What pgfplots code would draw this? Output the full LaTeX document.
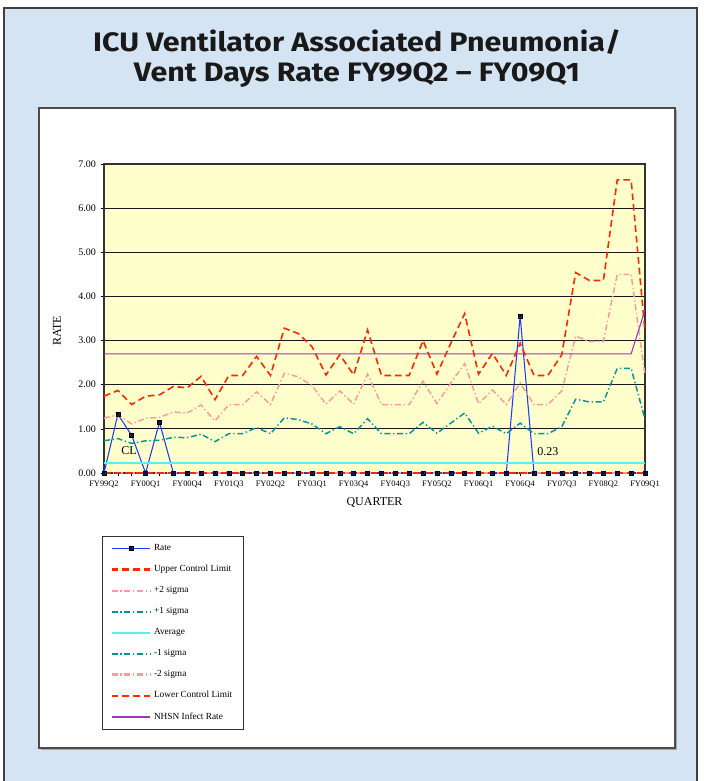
\documentclass[border=0pt]{standalone}
\usepackage{fontspec}
\setmainfont{Liberation Serif}
\newfontfamily\titlefont{Fira Sans}[FakeStretch=1.14]
\usepackage{pgfplots}
\usepackage{pgfplotstable}
\pgfplotsset{compat=1.18}

\definecolor{panelblue}{RGB}{212,228,243}
\definecolor{plotyellow}{RGB}{255,255,204}
\definecolor{ratecol}{RGB}{30,60,255}
\definecolor{markcol}{RGB}{20,45,180}
\definecolor{uclred}{RGB}{255,40,0}
\definecolor{sigpink}{RGB}{255,153,153}
\definecolor{sigteal}{RGB}{0,150,150}
\definecolor{avgcyan}{RGB}{90,240,240}
\definecolor{nhsnpurple}{RGB}{160,50,190}

% square with a cross, like the Excel marker
\pgfdeclareplotmark{sqx}{%
  \pgfpathrectangle{\pgfqpoint{-\pgfplotmarksize}{-\pgfplotmarksize}}{\pgfqpoint{2\pgfplotmarksize}{2\pgfplotmarksize}}%
  \pgfusepathqfillstroke
  \pgfpathmoveto{\pgfqpoint{-\pgfplotmarksize}{-\pgfplotmarksize}}%
  \pgfpathlineto{\pgfqpoint{\pgfplotmarksize}{\pgfplotmarksize}}%
  \pgfpathmoveto{\pgfqpoint{-\pgfplotmarksize}{\pgfplotmarksize}}%
  \pgfpathlineto{\pgfqpoint{\pgfplotmarksize}{-\pgfplotmarksize}}%
  \pgfusepathqstroke
}

\pgfplotstableread{
q rate ucl ptwo pone avg mone mtwo lcl nhsn
0  0    1.74 1.24 0.73 0.23 0 0 0 2.70
1  1.33 1.87 1.32 0.78 0.23 0 0 0 2.70
2  0.85 1.55 1.11 0.67 0.23 0 0 0 2.70
3  0    1.74 1.24 0.73 0.23 0 0 0 2.70
4  1.15 1.77 1.26 0.74 0.23 0 0 0 2.70
5  0    1.96 1.38 0.81 0.23 0 0 0 2.70
6  0    1.93 1.36 0.80 0.23 0 0 0 2.70
7  0    2.19 1.54 0.88 0.23 0 0 0 2.70
8  0    1.66 1.18 0.71 0.23 0 0 0 2.70
9  0    2.21 1.55 0.89 0.23 0 0 0 2.70
10 0    2.21 1.55 0.89 0.23 0 0 0 2.70
11 0    2.64 1.84 1.03 0.23 0 0 0 2.70
12 0    2.21 1.55 0.89 0.23 0 0 0 2.70
13 0    3.28 2.26 1.25 0.23 0 0 0 2.70
14 0    3.16 2.18 1.21 0.23 0 0 0 2.70
15 0    2.86 1.98 1.11 0.23 0 0 0 2.70
16 0    2.22 1.56 0.89 0.23 0 0 0 2.70
17 0    2.68 1.86 1.05 0.23 0 0 0 2.70
18 0    2.22 1.56 0.89 0.23 0 0 0 2.70
19 0    3.24 2.24 1.23 0.23 0 0 0 2.70
20 0    2.21 1.55 0.89 0.23 0 0 0 2.70
21 0    2.21 1.55 0.89 0.23 0 0 0 2.70
22 0    2.21 1.55 0.89 0.23 0 0 0 2.70
23 0    3.00 2.08 1.15 0.23 0 0 0 2.70
24 0    2.24 1.57 0.90 0.23 0 0 0 2.70
25 0    2.94 2.04 1.13 0.23 0 0 0 2.70
26 0    3.61 2.48 1.36 0.23 0 0 0 2.70
27 0    2.24 1.57 0.90 0.23 0 0 0 2.70
28 0    2.71 1.88 1.06 0.23 0 0 0 2.70
29 0    2.21 1.55 0.89 0.23 0 0 0 2.70
30 3.56 2.94 2.04 1.13 0.23 0 0 0 2.70
31 0    2.21 1.55 0.89 0.23 0 0 0 2.70
32 0    2.21 1.55 0.89 0.23 0 0 0 2.70
33 0    2.68 1.86 1.05 0.23 0 0 0 2.70
34 0    4.54 3.10 1.67 0.23 0 0 0 2.70
35 0    4.36 2.98 1.61 0.23 0 0 0 2.70
36 0    4.36 2.98 1.61 0.23 0 0 0 2.70
37 0    6.64 4.50 2.37 0.23 0 0 0 2.70
38 0    6.64 4.50 2.37 0.23 0 0 0 2.70
39 0    3.20 2.21 1.22 0.23 0 0 0 3.69
}\vapdata

\begin{document}
\begin{tikzpicture}
% panel and frame, in pixel units of the reference
\begin{scope}[x=0.75pt,y=-0.75pt]
  \fill[white] (0,0) rectangle (703,781);
  \fill[panelblue] (4,8) rectangle (697,790);
  \draw[black!75,line width=1.5pt] (4,790) -- (4,8) -- (697,8) -- (697,790);
  \fill[black!35] (41,110) rectangle (677,750);
  \filldraw[fill=white,draw=black!70,line width=1pt] (39,108) rectangle (675,748);
  \node[font=\titlefont\bfseries\fontsize{20}{24}\selectfont,text=black!90] at (357,42) {ICU Ventilator Associated Pneumonia/};
  \node[font=\titlefont\bfseries\fontsize{20}{24}\selectfont,text=black!90] at (357,75) {Vent Days Rate FY99Q2 – FY09Q1};
\end{scope}

\begin{axis}[
  at={(78pt,-354.75pt)}, anchor=south west,
  scale only axis, width=405.75pt, height=231.75pt,
  xmin=0, xmax=39, ymin=0, ymax=7,
  clip=false,
  axis background/.style={fill=plotyellow},
  axis line style={black!80,line width=0.9pt},
  ymajorgrids, grid style={black!90,line width=0.8pt},
  tick align=outside, tick pos=left,
  major tick length=2.5pt, minor tick length=2.5pt,
  tick style={black,line width=0.5pt},
  ytick={0,1,...,7},
  /pgf/number format/assume math mode=true,
  yticklabel style={font=\fontsize{7.5}{8}\selectfont,
    /pgf/number format/fixed,/pgf/number format/fixed zerofill,/pgf/number format/precision=2},
  xtick={0,3,...,39},
  minor xtick={0,...,39},
  xticklabels={FY99Q2,FY00Q1,FY00Q4,FY01Q3,FY02Q2,FY03Q1,FY03Q4,FY04Q3,FY05Q2,FY06Q1,FY06Q4,FY07Q3,FY08Q2,FY09Q1},
  xticklabel style={font=\fontsize{6.3}{7}\selectfont},
  xlabel={QUARTER}, ylabel={RATE},
  xlabel style={font=\fontsize{9}{10}\selectfont,at={(axis description cs:0.5,-0.097)},anchor=center},
  ylabel style={font=\fontsize{9}{10}\selectfont,at={(axis description cs:-0.087,0.46)},anchor=center},
  legend style={at={(axis description cs:-0.0037,-0.204)},anchor=north west,
    draw=black!80,line width=0.6pt,fill=white,
    font=\fontsize{7}{8}\selectfont,row sep=5.6pt,
    inner xsep=6pt,inner ysep=4pt},
  legend cell align=left,
  legend image code/.code={%
    \draw[mark repeat=2,mark phase=2,#1] plot coordinates {(0pt,0pt) (14.5pt,0pt) (29pt,0pt)};},
]
\addplot[ratecol,line width=0.8pt,mark=sqx,mark size=1.5pt,
  mark options={solid,fill=markcol,draw=black,line width=0.4pt}] table[x=q,y=rate] {\vapdata};
\addplot[uclred,line width=1.2pt,dash pattern=on 5pt off 3pt,
  legend image post style={line width=1.7pt}] table[x=q,y=ucl] {\vapdata};
\addplot[sigpink,line width=1.1pt,dash pattern=on 4.5pt off 2pt on 1pt off 2pt,
  legend image post style={line width=1.7pt}] table[x=q,y=ptwo] {\vapdata};
\addplot[sigteal,line width=1.1pt,dash pattern=on 4.5pt off 2pt on 1pt off 2pt,
  legend image post style={line width=1.7pt}] table[x=q,y=pone] {\vapdata};
\addplot[avgcyan,line width=1.4pt,
  legend image post style={line width=1.6pt}] table[x=q,y=avg] {\vapdata};
\addplot[sigteal,line width=1.1pt,dash pattern=on 4.5pt off 2pt on 1pt off 2pt,
  legend image post style={line width=1.7pt}] table[x=q,y=mone] {\vapdata};
\addplot[sigpink,line width=1.1pt,dash pattern=on 4.5pt off 2pt on 1pt off 2pt,
  legend image post style={line width=1.7pt}] table[x=q,y=mtwo] {\vapdata};
\addplot[uclred,line width=1.5pt,dash pattern=on 5pt off 3pt,
  legend image post style={line width=1.7pt}] table[x=q,y=lcl] {\vapdata};
\addplot[nhsnpurple,line width=0.8pt,
  legend image post style={line width=1.1pt}] table[x=q,y=nhsn] {\vapdata};
\legend{Rate,Upper Control Limit,+2 sigma,+1 sigma,Average,-1 sigma,-2 sigma,Lower Control Limit,NHSN Infect Rate}
\node[font=\fontsize{9}{10}\selectfont] at (axis cs:1.8,0.5) {CL};
\node[font=\fontsize{9}{10}\selectfont] at (axis cs:32.0,0.48) {0.23};
\end{axis}
\pgfresetboundingbox
\useasboundingbox (0pt,0pt) rectangle (527.25pt,-585.75pt);
\end{tikzpicture}
\end{document}
